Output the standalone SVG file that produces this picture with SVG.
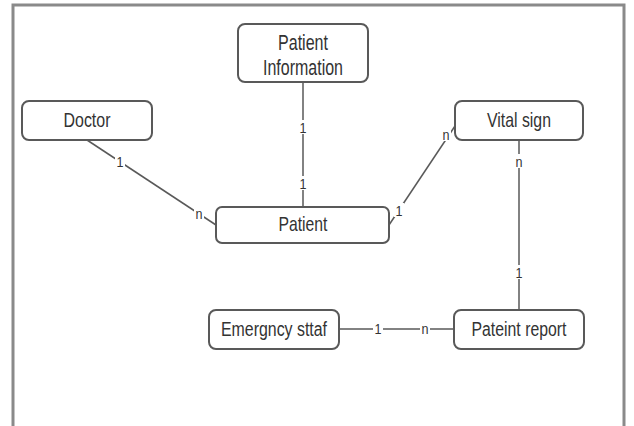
<svg xmlns="http://www.w3.org/2000/svg" width="634" height="426" viewBox="0 0 634 426">
<style>
.box{fill:#fff;stroke:#595959;stroke-width:2}
.t{font-family:"Liberation Sans",Arial,sans-serif;font-size:21px;fill:#333;text-anchor:middle;dominant-baseline:central}
.big{font-size:22px}
.sm{font-size:20px}
.l{font-family:"Liberation Sans",Arial,sans-serif;font-size:15px;fill:#333;text-anchor:middle;dominant-baseline:central}
.bg{fill:#fff}
.c{stroke:#595959;stroke-width:1.5;fill:none}
</style>
<rect width="634" height="426" fill="#fff"/>
<path d="M13,440 V5 H624 V440" fill="none" stroke="#8a8a8a" stroke-width="3"/>
<g id="connectors">
<line class="c" x1="303" y1="82" x2="303" y2="207"/>
<line class="c" x1="87" y1="140" x2="216" y2="225"/>
<line class="c" x1="389" y1="225" x2="455" y2="126"/>
<line class="c" x1="519" y1="140" x2="519" y2="310"/>
<line class="c" x1="339" y1="329" x2="454" y2="329"/>
<rect class="bg" x="298" y="120" width="10" height="14"/><text class="l" x="303" y="127" textLength="7" lengthAdjust="spacingAndGlyphs">1</text>
<rect class="bg" x="298" y="176" width="10" height="14"/><text class="l" x="303" y="183" textLength="7" lengthAdjust="spacingAndGlyphs">1</text>
<rect class="bg" x="115" y="154" width="10" height="14"/><text class="l" x="120" y="161" textLength="7" lengthAdjust="spacingAndGlyphs">1</text>
<rect class="bg" x="194" y="206" width="10" height="14"/><text class="l" x="199" y="213" textLength="7" lengthAdjust="spacingAndGlyphs">n</text>
<rect class="bg" x="394" y="203" width="10" height="14"/><text class="l" x="399" y="210" textLength="7" lengthAdjust="spacingAndGlyphs">1</text>
<rect class="bg" x="441" y="127" width="10" height="14"/><text class="l" x="446" y="134" textLength="7" lengthAdjust="spacingAndGlyphs">n</text>
<rect class="bg" x="514" y="154" width="10" height="14"/><text class="l" x="519" y="161" textLength="7" lengthAdjust="spacingAndGlyphs">n</text>
<rect class="bg" x="514" y="265" width="10" height="14"/><text class="l" x="519" y="272" textLength="7" lengthAdjust="spacingAndGlyphs">1</text>
<rect class="bg" x="373" y="321" width="10" height="14"/><text class="l" x="378" y="328" textLength="7" lengthAdjust="spacingAndGlyphs">1</text>
<rect class="bg" x="420" y="321" width="10" height="14"/><text class="l" x="425" y="328" textLength="7" lengthAdjust="spacingAndGlyphs">n</text>
</g>
<g id="patient-information">
<rect class="box" x="238" y="24" width="130" height="58" rx="7"/>
<text class="t big" x="303" y="42" textLength="50" lengthAdjust="spacingAndGlyphs">Patient</text>
<text class="t big" x="303" y="67.5" textLength="80" lengthAdjust="spacingAndGlyphs">Information</text>
</g>
<g id="doctor">
<rect class="box" x="22" y="101" width="130" height="39" rx="7"/>
<text class="t" x="87" y="119.5" textLength="47" lengthAdjust="spacingAndGlyphs">Doctor</text>
</g>
<g id="vital-sign">
<rect class="box" x="455" y="101" width="128" height="39" rx="7"/>
<text class="t" x="519" y="119" textLength="64" lengthAdjust="spacingAndGlyphs">Vital sign</text>
</g>
<g id="patient">
<rect class="box" x="216" y="207" width="173" height="36" rx="6"/>
<text class="t" x="303" y="223.5" textLength="49" lengthAdjust="spacingAndGlyphs">Patient</text>
</g>
<g id="emergncy-sttaf">
<rect class="box" x="209" y="310" width="130" height="39" rx="7"/>
<text class="t sm" x="274" y="329" textLength="106" lengthAdjust="spacingAndGlyphs">Emergncy sttaf</text>
</g>
<g id="pateint-report">
<rect class="box" x="454" y="310" width="130" height="39" rx="7"/>
<text class="t sm" x="519" y="329" textLength="95" lengthAdjust="spacingAndGlyphs">Pateint report</text>
</g>
</svg>
